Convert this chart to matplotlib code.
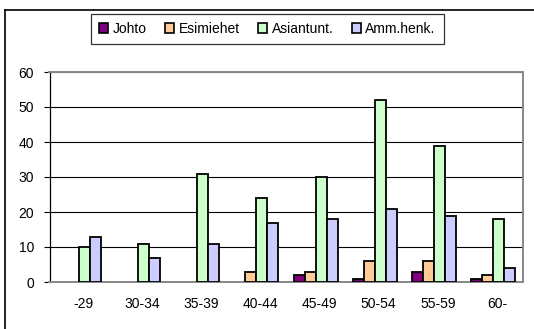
import numpy as np
import matplotlib.pyplot as plt
from matplotlib.lines import Line2D
from matplotlib.transforms import ScaledTranslation

plt.rcParams['font.family'] = ['Liberation Sans', 'DejaVu Sans']

groups = ["-29", "30-34", "35-39", "40-44", "45-49", "50-54", "55-59", "60-"]
johto = [0, 0, 0, 0, 2, 1, 3, 1]
esimiehet = [0, 0, 0, 3, 3, 6, 6, 2]
asiantunt = [10, 11, 31, 24, 30, 52, 39, 18]
ammhenk = [13, 7, 11, 17, 18, 21, 19, 4]

series = [("Johto", johto, "#800080"),
          ("Esimiehet", esimiehet, "#FFCC99"),
          ("Asiantunt.", asiantunt, "#CCFFCC"),
          ("Amm.henk.", ammhenk, "#CCCCFF")]

fs = 10

fig = plt.figure(figsize=(5.34, 3.29), dpi=100)
ax = fig.add_axes([49.5 / 534, 47 / 329, 473 / 534, 210 / 329])

x = np.arange(len(groups))
w = 0.186
for i, (name, vals, col) in enumerate(series):
    # empty bars get no outline
    edges = ["black" if v > 0 else "none" for v in vals]
    ax.bar(x + (i - 1.5) * w, vals, w, color=col, edgecolor=edges,
           linewidth=1.3, label=name, zorder=3)

ax.set_xlim(-0.5, len(groups) - 0.5)
ax.set_ylim(0, 60)
ax.set_yticks(range(0, 61, 10))
ax.yaxis.grid(True, color="black", linewidth=0.8, zorder=0)
ax.set_axisbelow(True)

ax.set_xticks(x)
ax.set_xticklabels(groups)
ax.tick_params(axis="x", length=0, pad=11, labelsize=fs)
ax.tick_params(axis="y", length=4, width=0.8, pad=7, labelsize=fs)
shift = ScaledTranslation(4 / 100, 0, fig.dpi_scale_trans)
for lab in ax.get_xticklabels():
    lab.set_transform(lab.get_transform() + shift)

for side in ("top", "right", "bottom"):
    ax.spines[side].set_color("#888888")
    ax.spines[side].set_linewidth(1.4)
ax.spines["left"].set_color("black")
ax.spines["left"].set_linewidth(0.9)

leg = fig.legend(loc="center", bbox_to_anchor=(267.5 / 534, 1 - 29 / 329), ncol=4,
                 fontsize=fs, frameon=True, fancybox=False, handlelength=0.65,
                 handleheight=0.65, handletextpad=0.3, columnspacing=1.35,
                 borderpad=0.6, borderaxespad=0)
leg.get_frame().set_edgecolor("black")
leg.get_frame().set_linewidth(0.9)
for h in leg.legend_handles:
    h.set_edgecolor("black")
    h.set_linewidth(1.2)

# outer chart frame, only the top and left edges fall inside the image
fig.add_artist(Line2D([5.5 / 534, 1.0], [1 - 9.5 / 329] * 2, color="black", lw=1.2))
fig.add_artist(Line2D([5.5 / 534] * 2, [0, 1 - 9.5 / 329], color="black", lw=1.2))

fig.savefig("out.png", dpi=100)
